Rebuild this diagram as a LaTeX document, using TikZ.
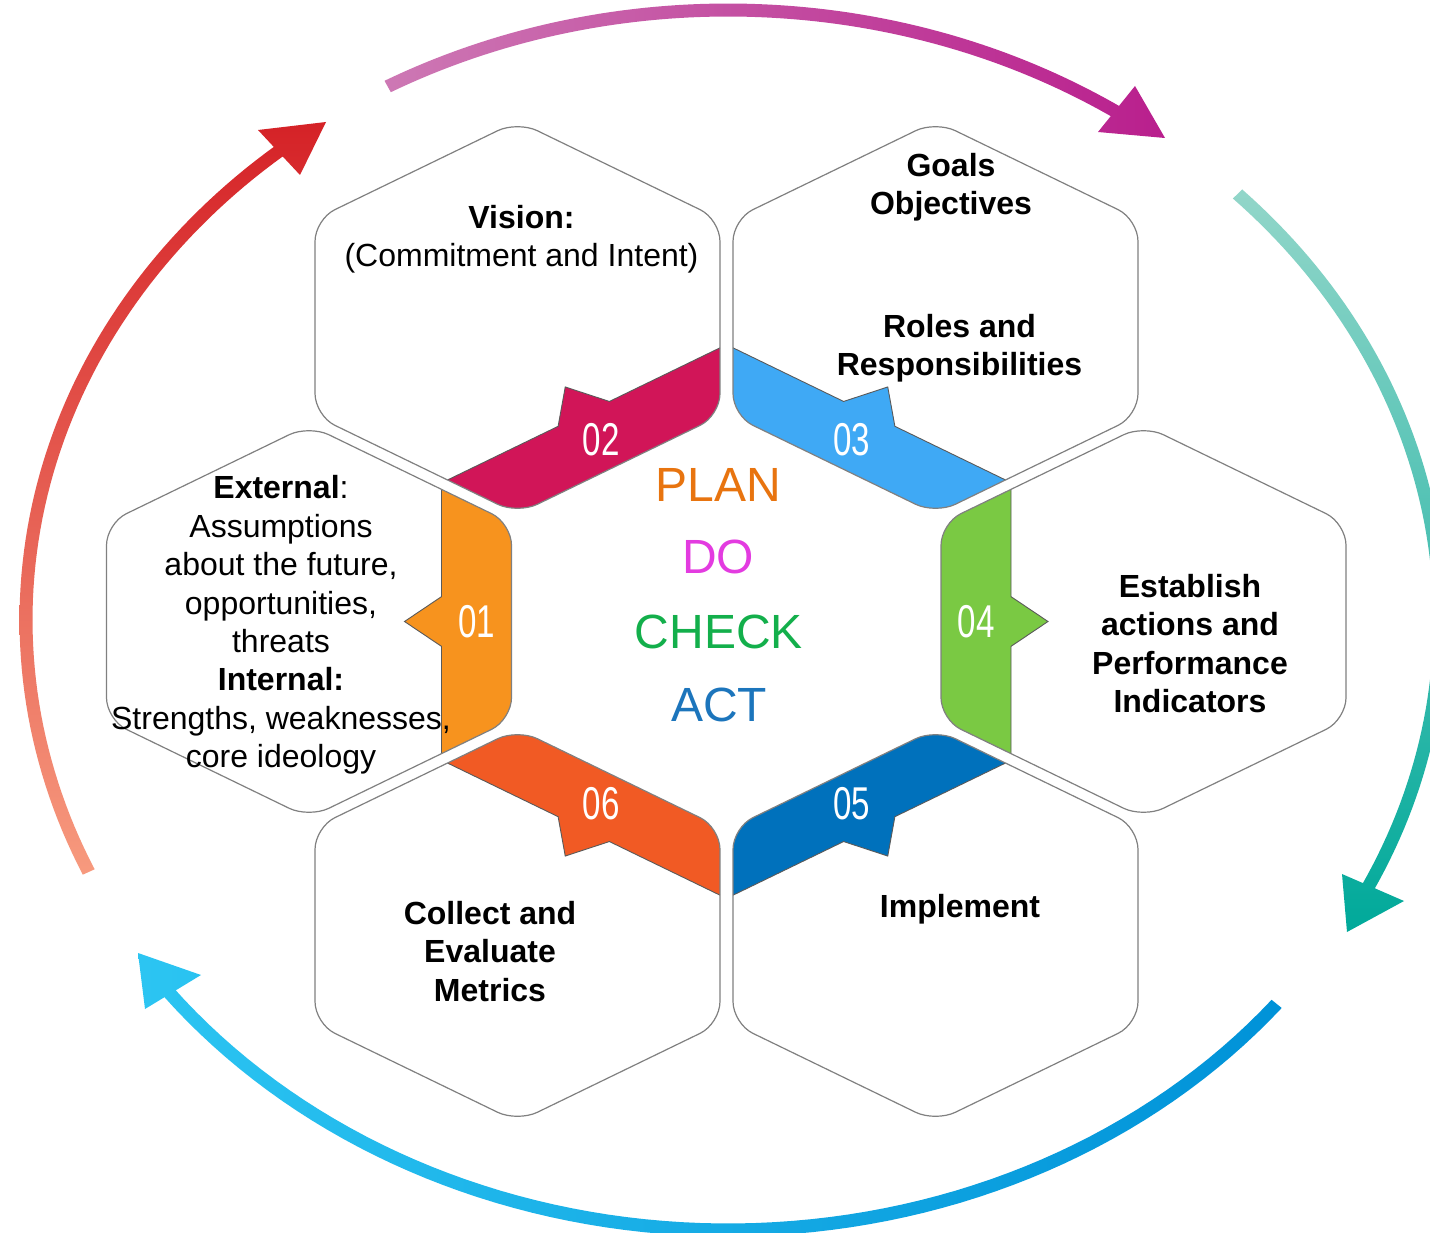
\documentclass[tikz,border=0pt]{standalone}
\usepackage{fontspec}
\setmainfont{Liberation Sans}
\usepackage{graphicx}

% cell outlines and tab colours
\definecolor{hexgray}{HTML}{808080}
\definecolor{tabgray}{HTML}{5A5A5A}
\definecolor{tabA}{HTML}{F7931E}
\definecolor{tabB}{HTML}{D11558}
\definecolor{tabC}{HTML}{3FA9F5}
\definecolor{tabD}{HTML}{7AC943}
\definecolor{tabE}{HTML}{0071BC}
\definecolor{tabF}{HTML}{F15A24}
% centre words
\definecolor{planc}{HTML}{E8740F}
\definecolor{doc}{HTML}{E33BE0}
\definecolor{checkc}{HTML}{13AF4B}
\definecolor{actc}{HTML}{1C75BC}
% outer cycle arrows
\definecolor{topA}{HTML}{CD78B4}
\definecolor{topB}{HTML}{B91F8D}
\definecolor{rightA}{HTML}{92D6C9}
\definecolor{rightB}{HTML}{00A99A}
\definecolor{botA}{HTML}{0092D8}
\definecolor{botB}{HTML}{2CC5F2}
\definecolor{leftA}{HTML}{F79A7E}
\definecolor{leftB}{HTML}{D52227}

\newcommand\cellfont{\fontsize{32}{38.4}\selectfont}
\newcommand\wordfont{\fontsize{48}{56}\selectfont}
\newcommand\digitfont{\fontsize{46}{46}\selectfont}

\begin{document}
\begin{tikzpicture}[x=1pt,y=-1pt,
  hexfill/.style={fill=white, rounded corners=22pt},
  hexline/.style={draw=hexgray, line width=1.2pt, rounded corners=22pt},
  tabline/.style={draw=tabgray, line width=0.9pt},
  tabnum/.style={text=white, font=\digitfont, inner sep=0pt},
  celltext/.style={align=center, font=\cellfont, text=black},
  boldtext/.style={celltext, font=\cellfont\bfseries},
  bigword/.style={font=\wordfont}
]
\fill[white] (0,0) rectangle (1430,1233);
\useasboundingbox (0,0) rectangle (1430,1233);

% ---- outer cycle: four shaded elliptic arcs with arrowheads ----
% top arc
\shade[left color=topA, right color=topB]
  plot[domain=-119:-55, samples=70, variable=\t] ({728+708.5*cos(\t)},{620+616.5*sin(\t)})
  -- plot[domain=-55:-119, samples=70, variable=\t] ({728+695.5*cos(\t)},{620+603.5*sin(\t)}) -- cycle
  (1135,86) -- (1165,138) -- (1098,132) -- cycle;
% right arc
\shade[top color=rightA, bottom color=rightB]
  plot[domain=-44.3:27, samples=70, variable=\t] ({728+718.5*cos(\t)},{620+616.5*sin(\t)})
  -- plot[domain=27:-44.3, samples=70, variable=\t] ({728+705.5*cos(\t)},{620+603.5*sin(\t)}) -- cycle
  (1342,874) -- (1404,901) -- (1347,932) -- cycle;
% bottom arc
\shade[right color=botA, left color=botB]
  plot[domain=39:144, samples=70, variable=\t] ({728+712.5*cos(\t)},{620+616.5*sin(\t)})
  -- plot[domain=144:39, samples=70, variable=\t] ({728+699.5*cos(\t)},{620+603.5*sin(\t)}) -- cycle
  (138,953) -- (201,975) -- (145,1009) -- cycle;
% left arc
\shade[bottom color=leftA, top color=leftB]
  plot[domain=155.6:231.5, samples=70, variable=\t] ({728+708.5*cos(\t)},{620+616.5*sin(\t)})
  -- plot[domain=231.5:155.6, samples=70, variable=\t] ({728+695.5*cos(\t)},{620+603.5*sin(\t)}) -- cycle
  (258,130) -- (326,122) -- (300,175) -- cycle;

% ---- honeycomb: six cells, each with a numbered tab on the side facing the centre ----
\foreach \cx/\cy/\ang/\col/\num in {309/621.5/0/tabA/01, 517.5/317.5/-60/tabB/02,
    935.5/317.5/-120/tabC/03, 1143.5/621.5/180/tabD/04, 935.5/925.5/120/tabE/05,
    517.5/925.5/60/tabF/06}{
  \begin{scope}[shift={(\cx,\cy)}, yscale=0.84, rotate=\ang]
    % cell body
    \path[hexfill] (0,-233.8) -- (202.5,-116.9) -- (202.5,116.9) -- (0,233.8)
      -- (-202.5,116.9) -- (-202.5,-116.9) -- cycle;
    % coloured band along the inner side
    \begin{scope}
      \clip (132.5,-300) rectangle (300,300);
      \fill[\col, rounded corners=22pt] (0,-233.8) -- (202.5,-116.9) -- (202.5,116.9)
        -- (0,233.8) -- (-202.5,116.9) -- (-202.5,-116.9) -- cycle;
    \end{scope}
    % pointer of the band
    \fill[\col] (132.5,-29.6) -- (95.5,0) -- (132.5,29.6) -- (140,29.6) -- (140,-29.6) -- cycle;
    \draw[tabline] (132.5,157.3) -- (132.5,29.6) -- (95.5,0) -- (132.5,-29.6) -- (132.5,-157.3);
    % cell outline
    \path[hexline] (0,-233.8) -- (202.5,-116.9) -- (202.5,116.9) -- (0,233.8)
      -- (-202.5,116.9) -- (-202.5,-116.9) -- cycle;
    \node[tabnum] (tab\num) at (167.5,0) {\scalebox{0.72}[1]{\num}};
  \end{scope}
}

% ---- centre words ----
\node[bigword, text=planc] (plan) at (718,485) {PLAN};
\node[bigword, text=doc] (do) at (718,557) {DO};
\node[bigword, text=checkc] (check) at (719,632) {CHECK};
\node[bigword, text=actc] (act) at (719,705) {ACT};

% ---- cell texts ----
\node[celltext] (vision) at (521.5,239) {\textbf{Vision:}\\(Commitment and Intent)};
\node[boldtext] (goals) at (951,187) {Goals\\Objectives};
\node[boldtext] (roles) at (959.5,348.5) {Roles and\\Responsibilities};
\node[celltext] (context) at (281,625) {\textbf{External}:\\Assumptions\\about the future,\\opportunities,\\threats\\\textbf{Internal:}\\Strengths, weaknesses,\\core ideology};
\node[boldtext] (actions) at (1190,643.5) {Establish\\actions and\\Performance\\Indicators};
\node[boldtext] (implement) at (960,909) {Implement};
\node[boldtext] (metrics) at (490,951.5) {Collect and\\Evaluate\\Metrics};
\end{tikzpicture}
\end{document}
